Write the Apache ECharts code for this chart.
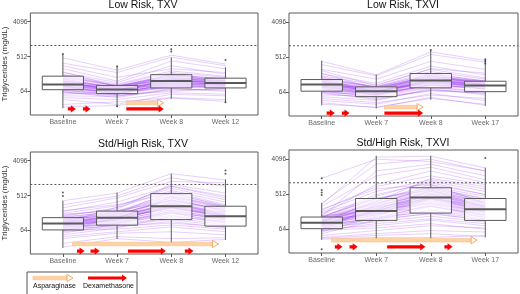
<!DOCTYPE html>
<html><head><meta charset="utf-8">
<script src="https://cdn.jsdelivr.net/npm/echarts@6/dist/echarts.min.js"></script>
<style>html,body{margin:0;padding:0;background:#fff}#c{width:520px;height:294px}</style>
</head><body><div id="c"></div>
<script>
// ---------- data ----------
const titles = ['Low Risk, TXV', 'Low Risk, TXVI', 'Std/High Risk, TXV', 'Std/High Risk, TXVI'];
const catsTXV = ['Baseline', 'Week 7', 'Week 8', 'Week 12'];
const catsTXVI = ['Baseline', 'Week 7', 'Week 8', 'Week 17'];
const yTicks = [64, 512, 4096];
const threshold = 1000;
const yRange = [16, 6889];

// box stats per timepoint: [lower whisker, Q1, median, Q3, upper whisker] (mg/dL)
const tlBox = [[24,72,98,161,593],[26,57,73,93,282],[42,80,120,176,488],[34,80,107,143,272]];
const trBox = [[30,69,102,137,416],[25,50,69,89,184],[42,84,129,195,765],[29,67,96,124,443]];
const blBox = [[23,67,98,139,380],[39,89,139,205,617],[31,124,274,580,1900],[37,84,150,274,1350]];
const brBox = [[35,67,95,133,304],[37,109,190,396,4900],[35,168,420,745,4900],[40,109,210,396,2440]];

// outliers: [timepoint index, value]
const tlOut = [[0,600],[1,290],[1,27],[2,800],[2,700],[3,420],[3,34]];
const trOut = [[3,450],[3,400],[3,350],[2,780]];
const blOut = [[0,620],[0,500],[3,2300],[3,1900]];
const brOut = [[0,1300],[0,650],[0,560],[0,490],[0,20],[3,4300]];

// individual patient trajectories (mg/dL)
const tlLines = [
[98,73,120,107],[160,90,170,140],[72,57,82,80],[300,150,250,200],[45,40,60,55],
[130,80,150,120],[85,60,100,95],[200,110,300,180],[60,50,70,75],[110,70,130,110],
[150,95,200,150],[75,65,90,85],[30,35,45,40],[250,120,400,250],[90,55,110,100],
[120,85,180,130],[65,45,75,70],[180,100,220,160],[55,62,95,90],[140,75,110,125],
[95,88,160,100],[40,30,55,50],[350,200,500,300],[80,58,85,82],[105,78,140,115],
[170,92,130,140],[70,52,65,78],[125,68,190,105],[50,48,78,65],[88,72,105,92],
[480,230,560,330],[26,28,44,36],[115,66,145,88],[62,54,118,95],[210,85,165,122],
[100,70,125,105],[92,66,112,98],[108,76,130,110],[84,62,96,90],[118,80,140,118],
[78,60,88,86],[135,84,160,128],[102,74,118,100],[96,68,135,112],[112,72,105,96],
[86,64,128,104],[145,90,175,135],[68,56,92,84],[122,82,150,122],[90,70,100,100]];
const trLines = [
[102,69,129,96],[137,89,195,124],[69,50,84,67],[250,140,400,250],[45,35,55,45],
[120,75,160,110],[85,58,100,85],[190,110,300,180],[60,45,70,62],[110,70,140,100],
[150,90,220,140],[75,60,95,80],[32,27,45,32],[330,170,600,380],[95,55,110,90],
[125,80,180,120],[65,42,75,60],[170,100,250,150],[55,52,105,78],[140,65,120,105],
[98,84,170,98],[40,32,60,40],[400,180,700,420],[80,55,88,70],[108,74,150,112],
[160,88,140,130],[70,48,72,68],[128,64,200,95],[50,40,80,55],[90,66,115,88],
[35,26,48,30],[118,62,135,76],[64,56,130,100],[200,78,170,115],[230,95,260,200],
[104,68,132,98],[95,64,120,92],[112,74,140,104],[88,60,110,88],[120,78,150,110],
[80,57,100,82],[132,86,170,118],[100,70,125,96],[92,66,145,102],[115,72,118,92],
[86,62,135,100],[142,88,190,126],[72,55,98,80],[124,80,160,114],[98,70,112,96]];
const blLines = [
[98,139,274,150],[139,205,580,274],[67,89,124,84],[300,500,1500,900],[45,60,80,60],
[120,170,400,220],[85,110,200,120],[200,350,900,500],[60,80,110,75],[110,150,300,180],
[150,250,700,350],[75,100,160,100],[30,45,40,42],[250,450,1200,1100],[90,120,220,130],
[125,190,500,260],[65,70,90,70],[180,280,800,400],[55,95,180,140],[140,130,250,160],
[95,160,450,200],[40,55,60,50],[380,600,1900,1300],[80,92,140,90],[105,145,320,190],
[170,210,380,230],[70,85,100,80],[128,180,650,300],[50,75,150,110],[88,125,260,145],
[24,40,32,38],[115,110,190,100],[62,140,350,160],[210,300,600,280],[160,230,1000,600],
[75,130,480,250],[100,260,900,450],
[100,140,280,155],[92,128,250,140],[110,160,320,170],[84,118,220,130],[118,175,380,200],
[78,105,180,110],[132,190,450,240],[102,150,300,165],[95,135,350,180],[112,145,240,150],
[86,120,290,160],[145,200,520,260],[70,100,200,120],[122,165,400,210],[90,130,260,145]];
const brLines = [
[95,190,420,210],[133,396,745,396],[67,109,168,109],[250,1500,2500,1200],[45,60,80,70],
[120,250,600,300],[85,150,300,160],[200,800,1500,900],[60,90,120,90],[110,220,500,250],
[130,500,1000,500],[75,120,200,130],[36,40,40,45],[300,3000,4000,2000],[90,170,350,180],
[125,300,700,350],[65,80,110,80],[180,600,1200,700],[55,140,400,250],[140,200,300,180],
[100,350,900,300],[40,50,60,55],[280,4500,4800,2400],[80,130,180,120],[105,260,550,280],
[170,400,650,320],[70,100,140,100],[128,450,1100,600],[50,110,250,150],[88,180,380,190],
[38,45,50,42],[115,160,250,130],[62,280,800,450],[210,700,900,500],[150,900,2000,1000],
[75,200,650,230],[100,330,1300,800],[85,120,160,110],[60,70,90,65],[140,2000,3000,1500],
[1300,4000,3500,2000],
[96,195,430,215],[90,170,380,190],[108,230,500,250],[84,150,330,170],[116,280,600,300],
[78,130,260,140],[128,330,700,350],[100,210,460,230],[92,185,520,260],[110,240,400,200],
[86,160,440,220],[140,380,750,380],[72,120,280,150],[120,300,640,320],[88,200,400,200],
[98,250,550,270],[104,220,480,240]];

// treatment arrows: [start position, end position (in timepoint units), y value, kind 0=Asparaginase 1=Dexamethasone]
const tlArrows = [[0.09,0.24,23,1],[0.37,0.51,23,1],[1.17,1.86,33,0],[1.17,1.86,23,1]];
const trArrows = [[0.09,0.24,19,1],[0.37,0.51,19,1],[1.15,1.86,27,0],[1.15,1.86,19,1]];
const blArrows = [[0.18,2.87,29,0],[0.26,0.40,19,1],[0.51,0.68,19,1],[1.2,1.9,19,1],[2.25,2.41,19,1]];
const brArrows = [[0.18,2.85,34,0],[0.24,0.38,23,1],[0.51,0.66,23,1],[1.2,1.9,23,1],[2.25,2.4,23,1]];

// ---------- chart ----------
const L2 = v => Math.log2(v);
const FONT = 'Liberation Sans';
const panels = [
  {title: titles[0], cats: catsTXV, box: tlBox, out: tlOut, lines: tlLines, arrows: tlArrows, grid: {left: 28, top: 13, width: 230, height: 102}, cx: 143, ty: 0, yname: true},
  {title: titles[1], cats: catsTXVI, box: trBox, out: trOut, lines: trLines, arrows: trArrows, grid: {left: 289, top: 13, width: 229, height: 103}, cx: 403, ty: 0, yname: false},
  {title: titles[2], cats: catsTXV, box: blBox, out: blOut, lines: blLines, arrows: blArrows, grid: {left: 28, top: 152, width: 230, height: 102}, cx: 143, ty: 139, yname: true},
  {title: titles[3], cats: catsTXVI, box: brBox, out: brOut, lines: brLines, arrows: brArrows, grid: {left: 289, top: 150, width: 229, height: 103}, cx: 403, ty: 138, yname: false}
];
const BOXW = 0.76;
const GRAY = '#5a5a5a';

function renderBox(params, api) {
  const x = api.value(0);
  const lo = api.coord([x, api.value(1)]);
  const q1 = api.coord([x, api.value(2)]);
  const md = api.coord([x, api.value(3)]);
  const q3 = api.coord([x, api.value(4)]);
  const hi = api.coord([x, api.value(5)]);
  const w = api.size([BOXW, 0])[0];
  const cx = lo[0];
  return {type: 'group', children: [
    {type: 'line', shape: {x1: cx, y1: hi[1], x2: cx, y2: q3[1]}, style: {stroke: GRAY, lineWidth: 1}},
    {type: 'line', shape: {x1: cx, y1: q1[1], x2: cx, y2: lo[1]}, style: {stroke: GRAY, lineWidth: 1}},
    {type: 'rect', shape: {x: cx - w / 2, y: q3[1], width: w, height: q1[1] - q3[1]}, style: {fill: 'rgba(255,255,255,0.62)', stroke: GRAY, lineWidth: 1}},
    {type: 'line', shape: {x1: cx - w / 2, y1: md[1], x2: cx + w / 2, y2: md[1]}, style: {stroke: GRAY, lineWidth: 2}}
  ]};
}

function arrowShapes(x0, x1, y, kind) {
  if (kind === 0) {
    const hl = 6, hh = 3.6, sh = 1.8;
    return [
      {type: 'rect', shape: {x: x0, y: y - sh, width: x1 - hl - x0, height: sh * 2}, style: {fill: '#fdd3a6', stroke: '#f9bd86', lineWidth: 0.6}},
      {type: 'polygon', shape: {points: [[x1 - hl, y - hh], [x1, y], [x1 - hl, y + hh]]}, style: {fill: '#fff', stroke: '#f7a860', lineWidth: 1}}
    ];
  }
  const hl = 5, hh = 3.6, sh = 1.6;
  return [{type: 'polygon', shape: {points: [[x0, y - sh], [x1 - hl, y - sh], [x1 - hl, y - hh], [x1, y], [x1 - hl, y + hh], [x1 - hl, y + sh], [x0, y + sh]]}, style: {fill: '#ff0000'}}];
}

function renderArrow(params, api) {
  const p0 = api.coord([api.value(0), api.value(2)]);
  const p1 = api.coord([api.value(1), api.value(2)]);
  return {type: 'group', children: arrowShapes(p0[0], p1[0], p0[1], api.value(3))};
}

const grid = [], xAxis = [], yAxis = [], series = [], graphic = [];
panels.forEach((p, i) => {
  grid.push(Object.assign({show: true, borderColor: GRAY, borderWidth: 1, backgroundColor: 'transparent'}, p.grid));
  const cats = p.cats;
  xAxis.push({type: 'value', gridIndex: i, min: -0.6, max: 3.6,
    axisLine: {show: false, onZero: false}, splitLine: {show: false},
    axisTick: {show: true, customValues: [0, 1, 2, 3], length: 3, lineStyle: {color: GRAY}},
    axisLabel: {customValues: [0, 1, 2, 3], formatter: v => cats[Math.round(v)], color: '#6b6b6b', fontSize: 7, fontFamily: FONT, margin: 4}});
  yAxis.push({type: 'value', gridIndex: i, min: L2(yRange[0]), max: L2(yRange[1]),
    axisLine: {show: false, onZero: false}, splitLine: {show: false},
    axisTick: {show: true, customValues: yTicks.map(L2), length: 3, lineStyle: {color: GRAY}},
    axisLabel: {customValues: yTicks.map(L2), formatter: v => String(Math.round(Math.pow(2, v))), color: '#4d4d4d', fontSize: 6.5, fontFamily: FONT, margin: 3},
    name: p.yname ? 'Triglycerides (mg/dL)' : '', nameLocation: 'middle', nameRotate: 90, nameGap: 20,
    nameTextStyle: {fontSize: 8, color: '#333', fontFamily: FONT}});
  series.push({type: 'lines', coordinateSystem: 'cartesian2d', xAxisIndex: i, yAxisIndex: i, polyline: true, silent: true, z: 1,
    lineStyle: {color: 'rgba(145,40,235,0.44)', width: 1},
    data: p.lines.map(r => ({coords: r.map((v, k) => [k, L2(v)])}))});
  series.push({type: 'custom', xAxisIndex: i, yAxisIndex: i, z: 2, renderItem: renderBox, encode: {x: 0, y: [1, 2, 3, 4, 5]},
    data: p.box.map((b, k) => [k].concat(b.map(L2)))});
  series.push({type: 'scatter', xAxisIndex: i, yAxisIndex: i, z: 3, symbolSize: 2, itemStyle: {color: '#333'},
    data: p.out.map(o => [o[0], L2(o[1])])});
  series.push({type: 'line', xAxisIndex: i, yAxisIndex: i, z: 3, symbol: 'none', silent: true,
    lineStyle: {color: '#555', width: 1, type: [2, 2]},
    data: [[-0.6, L2(threshold)], [3.6, L2(threshold)]]});
  series.push({type: 'custom', xAxisIndex: i, yAxisIndex: i, z: 4, renderItem: renderArrow, encode: {x: [0, 1], y: 2},
    data: p.arrows.map(a => [a[0], a[1], L2(a[2]), a[3]])});
  graphic.push({type: 'text', x: p.cx, y: p.ty, style: {text: p.title, fontSize: 10.5, fontFamily: FONT, fill: '#111', textAlign: 'center', textVerticalAlign: 'top'}});
});

// legend box
graphic.push({type: 'rect', shape: {x: 27, y: 272, width: 110, height: 24}, style: {fill: '#fff', stroke: '#555', lineWidth: 1}});
graphic.push({type: 'group', children: arrowShapes(33, 73, 278, 0)});
graphic.push({type: 'group', children: arrowShapes(88, 127, 278, 1)});
graphic.push({type: 'text', x: 33, y: 286, style: {text: 'Asparaginase', fontSize: 7, fontFamily: FONT, fill: '#111', textVerticalAlign: 'middle'}});
graphic.push({type: 'text', x: 83, y: 286, style: {text: 'Dexamethasone', fontSize: 7, fontFamily: FONT, fill: '#111', textVerticalAlign: 'middle'}});

const chart = echarts.init(document.getElementById('c'), null, {renderer: 'canvas'});
chart.setOption({animation: false, backgroundColor: '#fff', grid, xAxis, yAxis, series, graphic});
</script></body></html>
